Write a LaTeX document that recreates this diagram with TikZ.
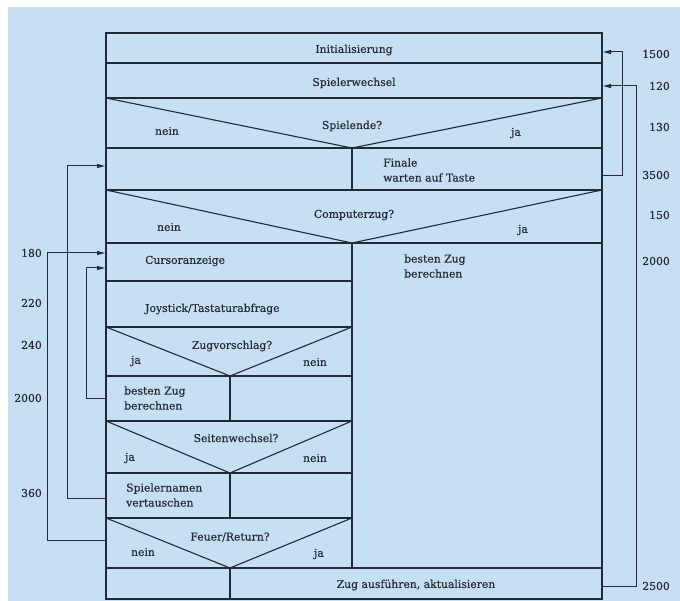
\documentclass[tikz,border=0pt]{standalone}
\usepackage{fontspec}
\setmainfont{DejaVu Serif}
\newfontfamily\chartfont{DejaVu Serif}[FakeBold=0.4]
\usetikzlibrary{arrows.meta}
\definecolor{paper}{RGB}{198,223,242}
\definecolor{ink}{RGB}{35,42,55}
\tikzset{
every node/.style={ % text inside the chart
font=\chartfont\fontsize{10.8}{15}\selectfont,
text=ink,
inner sep=0pt},
struct/.style={ % lines of the structogram
draw=ink,
line width=1.1pt},
back/.style={ % jumps back on both sides
draw=ink,
line width=1pt,
-{Latex[length=9pt,width=4.5pt]}},
nr/.style={anchor=east}, % line numbers
txt/.style={anchor=west, align=left}}

\begin{document}
\begin{tikzpicture}[x=1pt,y=-1pt]
	\useasboundingbox (0,0) rectangle (680,601);
	\fill[white] (0,0) rectangle (680,601);
	\fill[paper] (8,7) rectangle (680,601);
	% frame and full rows
	\draw[struct] (106,33) rectangle (602,599);
	\draw[struct] (106,63) -- (602,63);
	\draw[struct] (106,98) -- (602,98);
	\draw[struct] (106,148) -- (602,148);
	\draw[struct] (106,190) -- (602,190);
	\draw[struct] (106,243) -- (602,243);
	\draw[struct] (106,568) -- (602,568);
	% branches
	\draw[struct] (106,98) -- (352,148) -- (602,98);
	\draw[struct] (352,148) -- (352,190);
	\draw[struct] (106,190) -- (352,243) -- (602,190);
	\draw[struct] (352,243) -- (352,568);
	% left column
	\draw[struct] (106,281) -- (352,281);
	\draw[struct] (106,327) -- (352,327);
	\draw[struct] (106,376) -- (352,376);
	\draw[struct] (106,421) -- (352,421);
	\draw[struct] (106,473) -- (352,473);
	\draw[struct] (106,518) -- (352,518);
	\draw[struct] (106,327) -- (230,376) -- (352,327);
	\draw[struct] (230,376) -- (230,421);
	\draw[struct] (106,421) -- (230,473) -- (352,421);
	\draw[struct] (230,473) -- (230,518);
	\draw[struct] (106,518) -- (230,568) -- (352,518);
	\draw[struct] (230,568) -- (230,599);

	\node (ini) at (354,50) {Initialisierung};
	\node (wech) at (354,83) {Spielerwechsel};
	\node (ende) at (352,126) {Spielende?};
	\node (ende-n) at (167,131) {nein};
	\node (ende-j) at (516,133) {ja};
	\node[txt] (fin) at (383,170) {Finale\\warten auf Taste};
	\node (comp) at (354,215) {Computerzug?};
	\node (comp-n) at (169,227) {nein};
	\node (comp-j) at (523,230) {ja};
	\node[txt] (cursor) at (145,261) {Cursoranzeige};
	\node[txt] (best1) at (404,266) {besten Zug\\berechnen};
	\node[txt] (joy) at (145,309) {Joystick/Tastaturabfrage};
	\node (vor) at (232,346) {Zugvorschlag?};
	\node (vor-j) at (136,361) {ja};
	\node (vor-n) at (315,362) {nein};
	\node[txt] (best2) at (124,398) {besten Zug\\berechnen};
	\node (seite) at (236,438) {Seitenwechsel?};
	\node (seite-j) at (130,458) {ja};
	\node (seite-n) at (315,458) {nein};
	\node[txt] (tausch) at (126,495) {Spielernamen\\vertauschen};
	\node (feuer) at (230,537) {Feuer/Return?};
	\node (feuer-n) at (143,552) {nein};
	\node (feuer-j) at (319,554) {ja};
	\node (zug) at (416,585) {Zug ausführen, aktualisieren};

	% line numbers
	\node[nr] (n1500) at (670,54) {1500};
	\node[nr] (n120) at (670,86) {120};
	\node[nr] (n130) at (670,127) {130};
	\node[nr] (n3500) at (670,175) {3500};
	\node[nr] (n150) at (670,215) {150};
	\node[nr] (n2000r) at (670,261) {2000};
	\node[nr] (n2500) at (670,586) {2500};
	\node[nr] (n180) at (42,253) {180};
	\node[nr] (n220) at (42,303) {220};
	\node[nr] (n240) at (42,345) {240};
	\node[nr] (n2000l) at (42,398) {2000};
	\node[nr] (n360) at (42,493) {360};

	% jumps
	\coordinate (fin-r) at (602,176);
	\coordinate (ini-r) at (602,52);
	\coordinate (zug-r) at (602,586);
	\coordinate (wech-r) at (602,86);
	\coordinate (tausch-l) at (106,498);
	\coordinate (fin-l) at (106,166);
	\coordinate (feuer-l) at (106,540);
	\coordinate (cur-l) at (106,253);
	\coordinate (best-l) at (106,399);
	\coordinate (cur-l2) at (106,268);
	\draw[back] (fin-r) -- ++(20,0) |- (ini-r);
	\draw[back] (zug-r) -- ++(34,0) |- (wech-r);
	\draw[back] (tausch-l) -- ++(-39,0) |- (fin-l);
	\draw[back] (feuer-l) -- ++(-59,0) |- (cur-l);
	\draw[back] (best-l) -- ++(-20,0) |- (cur-l2);
\end{tikzpicture}
\end{document}
